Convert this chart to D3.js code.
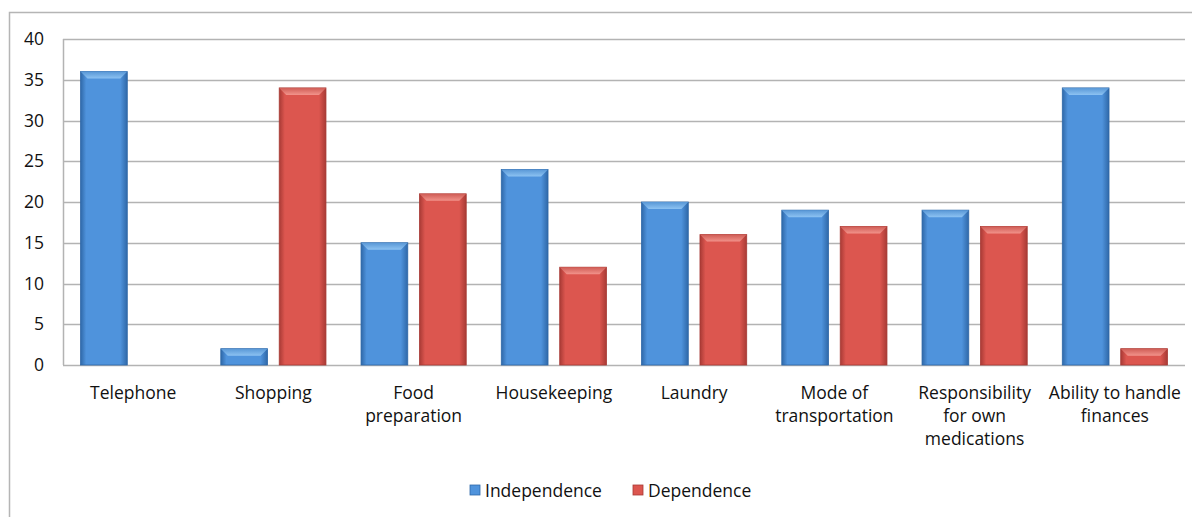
<!DOCTYPE html>
<html>
<head>
<meta charset="utf-8">
<script src="https://cdn.jsdelivr.net/npm/d3@7"></script>
<style>
  body { margin: 0; background: #fff; }
  text { font-family: "Open Sans", sans-serif; fill: #111; }
</style>
</head>
<body>
<div id="chart"></div>
<script>
// chart data
var categories = ["Telephone", "Shopping", "Food preparation", "Housekeeping", "Laundry",
  "Mode of transportation", "Responsibility for own medications", "Ability to handle finances"];
var categoryLines = [["Telephone"], ["Shopping"], ["Food", "preparation"], ["Housekeeping"], ["Laundry"],
  ["Mode of", "transportation"], ["Responsibility", "for own", "medications"], ["Ability to handle", "finances"]];
var seriesNames = ["Independence", "Dependence"];
var independence = [36, 2, 15, 24, 20, 19, 19, 34];
var dependence = [0, 34, 21, 12, 16, 17, 17, 2];
var yTicks = [0, 5, 10, 15, 20, 25, 30, 35, 40];

var svgWidth = 1192, svgHeight = 517;
var margin = { top: 39, right: 7, bottom: 152, left: 63 };
var width = svgWidth - margin.left - margin.right;
var height = svgHeight - margin.top - margin.bottom;

var svg = d3.select("#chart").append("svg")
  .attr("width", svgWidth)
  .attr("height", svgHeight);

// gradients for the bevelled bars
var defs = svg.append("defs");
var palette = {
  Independence: { edge: "#2f68a8", mid: "#4f93dc", top: "#8cc2f2", topEdge: "#5897d6" },
  Dependence: { edge: "#a83a35", mid: "#dc564f", top: "#f2938b", topEdge: "#cf5c55" }
};
seriesNames.forEach(function (s) {
  var g = defs.append("linearGradient").attr("id", "grad-" + s)
    .attr("x1", "0").attr("x2", "1").attr("y1", "0").attr("y2", "0");
  g.append("stop").attr("offset", "0%").attr("stop-color", palette[s].edge);
  g.append("stop").attr("offset", "12%").attr("stop-color", palette[s].mid);
  g.append("stop").attr("offset", "85%").attr("stop-color", palette[s].mid);
  g.append("stop").attr("offset", "100%").attr("stop-color", palette[s].edge);
  var t = defs.append("linearGradient").attr("id", "top-" + s)
    .attr("x1", "0").attr("x2", "0").attr("y1", "0").attr("y2", "1");
  t.append("stop").attr("offset", "0%").attr("stop-color", palette[s].topEdge);
  t.append("stop").attr("offset", "100%").attr("stop-color", palette[s].top);
});

// outer frame
svg.append("rect")
  .attr("x", 9.5).attr("y", 12.5)
  .attr("width", 1200).attr("height", 530)
  .attr("fill", "none")
  .attr("stroke", "#b5b5b5")
  .attr("stroke-width", 1.5);

var chartGroup = svg.append("g")
  .attr("transform", `translate(${margin.left}, ${margin.top})`);

var x0 = d3.scaleBand().domain(categories).range([0, width]);
var x1 = d3.scaleBand().domain(seriesNames).range([0, x0.bandwidth()])
  .paddingInner(0.2).paddingOuter(0.3);
var y = d3.scaleLinear().domain([0, 40]).range([height, 0]);

// gridlines
chartGroup.append("g")
  .selectAll("line")
  .data(yTicks)
  .enter()
  .append("line")
  .attr("x1", 0)
  .attr("x2", width)
  .attr("y1", function (d) { return Math.round(y(d)) + 0.5; })
  .attr("y2", function (d) { return Math.round(y(d)) + 0.5; })
  .attr("stroke", "#b3b3b3")
  .attr("stroke-width", 1.5);

// left axis line
chartGroup.append("line")
  .attr("x1", 0.5).attr("x2", 0.5)
  .attr("y1", y(40)).attr("y2", y(0))
  .attr("stroke", "#b3b3b3").attr("stroke-width", 1.5);

// y tick labels
chartGroup.append("g")
  .selectAll("text")
  .data(yTicks)
  .enter()
  .append("text")
  .attr("x", -19)
  .attr("y", function (d) { return y(d); })
  .attr("dy", "0.35em")
  .attr("text-anchor", "end")
  .style("font-size", "17.5px")
  .text(function (d) { return d; });

// bars
var rows = categories.map(function (c, i) {
  return { cat: c, values: [
    { series: "Independence", value: independence[i] },
    { series: "Dependence", value: dependence[i] }
  ] };
});

var groups = chartGroup.append("g")
  .selectAll("g")
  .data(rows)
  .enter()
  .append("g")
  .attr("transform", function (d) { return `translate(${x0(d.cat)},0)`; });

var bars = groups.selectAll("g.bar")
  .data(function (d) { return d.values.filter(function (v) { return v.value > 0; }); })
  .enter()
  .append("g")
  .attr("class", "bar");

bars.append("rect")
  .attr("x", function (d) { return x1(d.series); })
  .attr("y", function (d) { return y(d.value); })
  .attr("width", x1.bandwidth())
  .attr("height", function (d) { return y(0) - y(d.value); })
  .attr("fill", function (d) { return "url(#grad-" + d.series + ")"; })
  .attr("stroke", function (d) { return palette[d.series].edge; })
  .attr("stroke-width", 0.8);

// bevel on top of bars
var bevel = 7;
bars.append("path")
  .attr("d", function (d) {
    var xl = x1(d.series), xr = xl + x1.bandwidth(), yt = y(d.value);
    var b = Math.min(bevel, (y(0) - yt) / 2);
    return `M${xl},${yt}L${xr},${yt}L${xr - b},${yt + b}L${xl + b},${yt + b}Z`;
  })
  .attr("fill", function (d) { return "url(#top-" + d.series + ")"; });

// category labels
var labels = chartGroup.append("g")
  .selectAll("text")
  .data(categories)
  .enter()
  .append("text")
  .attr("x", function (d) { return x0(d) + x0.bandwidth() / 2; })
  .attr("y", height + 34)
  .attr("text-anchor", "middle")
  .style("font-size", "17.5px");

labels.selectAll("tspan")
  .data(function (d, i) { return categoryLines[i]; })
  .enter()
  .append("tspan")
  .attr("x", function () { var p = d3.select(this.parentNode).datum(); return x0(p) + x0.bandwidth() / 2; })
  .attr("dy", function (d, i) { return i === 0 ? 0 : 23; })
  .text(function (d) { return d; });

// legend
var legendX = [470, 633];
var legend = svg.append("g")
  .selectAll("g")
  .data(seriesNames)
  .enter()
  .append("g")
  .attr("transform", function (d, i) { return `translate(${legendX[i]}, 485)`; });

legend.append("rect")
  .attr("width", 10).attr("height", 10)
  .attr("fill", function (d) { return palette[d].mid; })
  .attr("stroke", function (d) { return palette[d].edge; })
  .attr("stroke-width", 0.8);

legend.append("text")
  .attr("x", 15)
  .attr("y", 5)
  .attr("dy", "0.38em")
  .style("font-size", "17.5px")
  .text(function (d) { return d; });
</script>
</body>
</html>
